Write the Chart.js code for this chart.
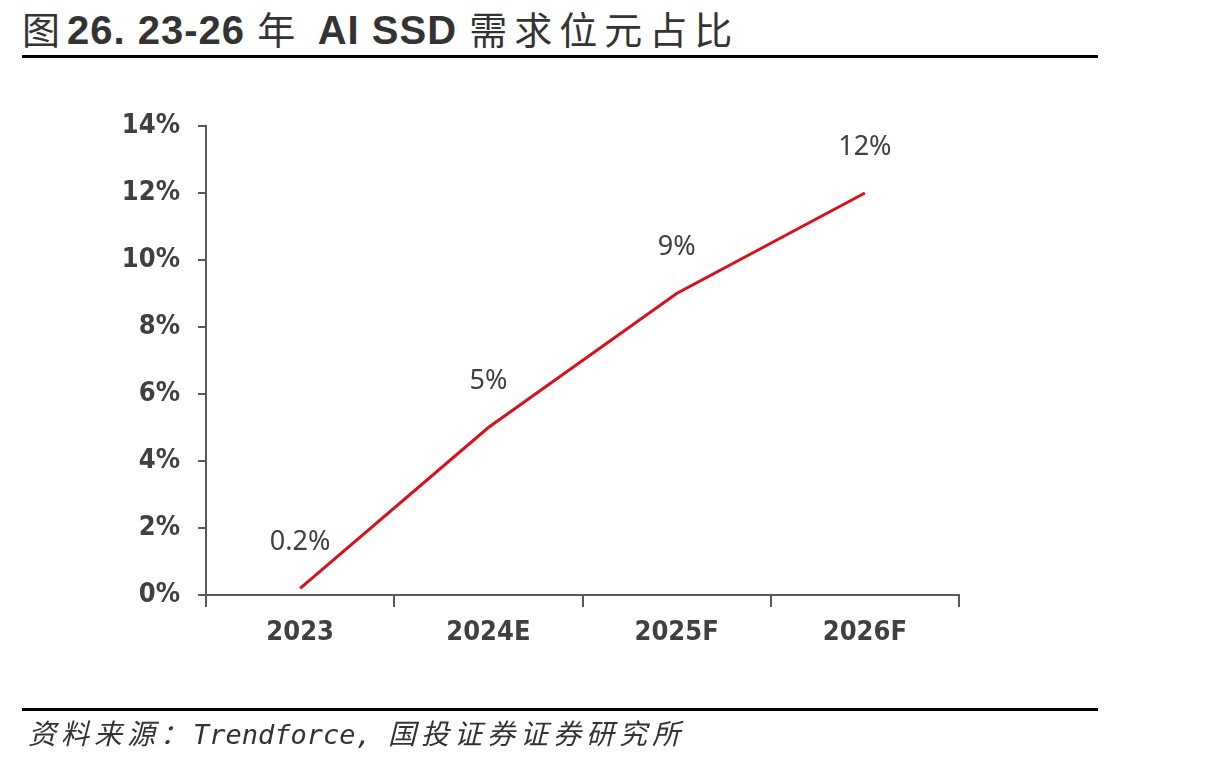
<!DOCTYPE html>
<html>
<head>
<meta charset="utf-8">
<script src="https://cdn.jsdelivr.net/npm/chart.js@4/dist/chart.umd.min.js"></script>
<style>
  body { margin: 0; background: #fff; }
  #page { position: relative; width: 1213px; height: 763px; overflow: hidden; }
  #title { position: absolute; left: 22px; top: 0px; font-size: 38px; color: #333; white-space: nowrap; }
  #title .cn { font-family: "Noto Sans CJK SC"; font-weight: 400; letter-spacing: 7px; }
  #title .num { font-family: "Liberation Sans", sans-serif; font-weight: 700; font-size: 40px; letter-spacing: 1px; }
  .rule { position: absolute; left: 22px; width: 1076px; height: 3px; background: #000; }
  #source { position: absolute; left: 28px; top: 712px; font-size: 28px; color: #333; font-style: italic;
            font-family: "Noto Sans CJK SC", sans-serif; white-space: nowrap; letter-spacing: 5px; }
  #source .en { font-family: "DejaVu Sans Mono", monospace; font-size: 27px; letter-spacing: 0; }
  #wrap { position: absolute; left: 0; top: 0; width: 1213px; height: 763px; }
</style>
</head>
<body>
<div id="page">
  <div id="title"><span class="cn">图</span><span class="num">26. 23-26 </span><span class="cn">年 </span><span class="num">AI SSD </span><span class="cn">需求位元占比</span></div>
  <div class="rule" style="top:55px"></div>
  <div id="wrap"><canvas id="chart"></canvas></div>
  <div class="rule" style="top:708px"></div>
  <div id="source">资料来源：<span class="en">Trendforce,  </span>国投证券证券研究所</div>
</div>
<script>
// MODULE: data
const years = ["2023", "2024E", "2025F", "2026F"];
const shareValues = [0.2, 5, 9, 12];
const shareLabels = ["0.2%", "5%", "9%", "12%"];
const yTicks = [0, 2, 4, 6, 8, 10, 12, 14];

const axisColor = "#595959";
const textColor = "#404040";
const tickFont = { family: "'Liberation Sans Narrow', 'DejaVu Sans Condensed', 'Liberation Sans', sans-serif", size: 27, weight: "bold" };

// draws the value text above each point
const valueLabels = {
  id: "valueLabels",
  afterDatasetsDraw(chart) {
    const ctx = chart.ctx;
    const meta = chart.getDatasetMeta(0);
    ctx.save();
    ctx.font = "27px 'Noto Sans', 'DejaVu Sans', sans-serif";
    ctx.fillStyle = textColor;
    ctx.textAlign = "center";
    ctx.textBaseline = "middle";
    meta.data.forEach((pt, i) => {
      ctx.fillText(shareLabels[i], pt.x, pt.y - 46);
    });
    ctx.restore();
  }
};

new Chart(document.getElementById("chart"), {
  type: "line",
  data: {
    labels: years,
    datasets: [{
      data: shareValues,
      borderColor: "#d7121b",
      borderWidth: 3,
      pointRadius: 0,
      tension: 0,
      clip: false
    }]
  },
  options: {
    responsive: true,
    maintainAspectRatio: false,
    animation: false,
    events: [],
    layout: { padding: { left: 0, top: 126, right: 254, bottom: 0 } },
    plugins: { legend: { display: false }, tooltip: { enabled: false } },
    scales: {
      x: {
        type: "category",
        offset: true,
        afterFit: s => { s.height = 168; },
        border: { color: axisColor, width: 2 },
        grid: { offset: true, drawOnChartArea: false, drawTicks: true, tickLength: 12, color: axisColor, lineWidth: 2 },
        ticks: { color: textColor, font: tickFont, padding: 10 }
      },
      y: {
        min: 0,
        max: 14,
        afterFit: s => { s.width = 206; },
        afterBuildTicks: s => { s.ticks = yTicks.map(v => ({ value: v })); },
        border: { color: axisColor, width: 2 },
        grid: { drawOnChartArea: false, drawTicks: true, tickLength: 8, color: axisColor, lineWidth: 2 },
        ticks: { color: textColor, font: tickFont, padding: 18, callback: v => v + "%" }
      }
    }
  },
  plugins: [valueLabels]
});
</script>
</body>
</html>
